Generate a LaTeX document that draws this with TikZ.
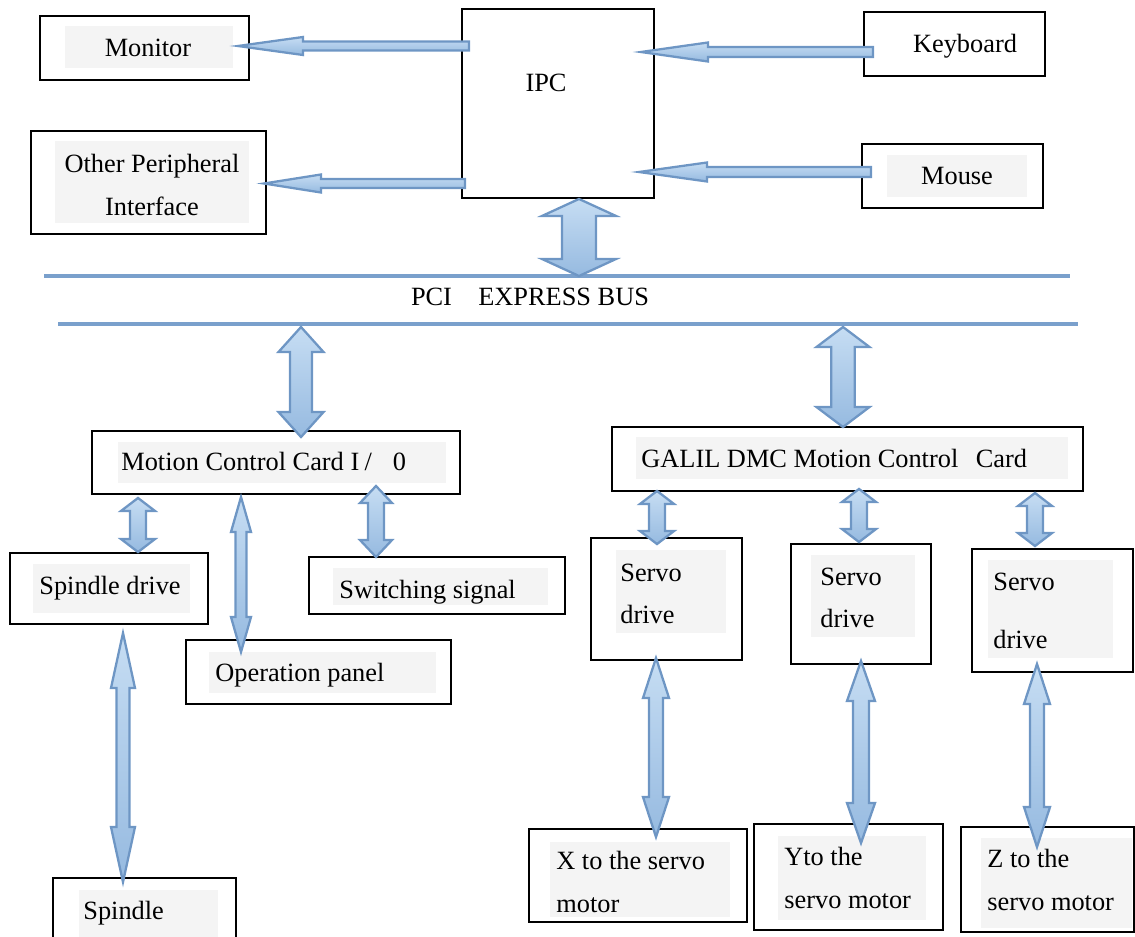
\documentclass[tikz,border=0pt]{standalone}
\usepackage{fontspec}
\setmainfont{Liberation Serif}
\usetikzlibrary{calc,fit}

\definecolor{arrowline}{RGB}{110,150,196}
\definecolor{arrowtop}{RGB}{198,221,243}
\definecolor{arrowbot}{RGB}{150,186,224}
\definecolor{busline}{RGB}{122,160,204}
\definecolor{labelgrey}{RGB}{244,244,244}

\tikzset{
	unit/.style={draw, line width=1.1pt, inner sep=0pt},
	shadebox/.style={fill=labelgrey, inner sep=0pt},
	txt/.style={inner sep=0pt, text height=0.9em, text depth=0.04em},
	txtii/.style={inner sep=0pt, align=left},
	fatline/.style={draw=arrowline, line width=1.3pt, line join=miter, top color=arrowtop, bottom color=arrowbot},
	bus/.style={draw=busline, line width=2.1pt}
}

% block arrow: from, to, half shaft, half head, head length (px)
\newcommand{\onearrow}[5]{
	\coordinate (fa-s) at #1;
	\coordinate (fa-e) at #2;
	\pgfmathsetlengthmacro{\fasw}{#3*0.02cm}
	\pgfmathsetlengthmacro{\fahw}{#4*0.02cm}
	\pgfmathsetlengthmacro{\fahl}{#5*0.02cm}
	\coordinate (fa-h) at ($(fa-e)!\fahl!(fa-s)$);
	\path[fatline] ($(fa-s)!\fasw!90:(fa-e)$) -- ($(fa-h)!\fasw!90:(fa-e)$) -- ($(fa-h)!\fahw!90:(fa-e)$) -- (fa-e)
		-- ($(fa-h)!\fahw!-90:(fa-e)$) -- ($(fa-h)!\fasw!-90:(fa-e)$) -- ($(fa-s)!\fasw!-90:(fa-e)$) -- cycle;
}
\newcommand{\twoarrow}[5]{
	\coordinate (fa-s) at #1;
	\coordinate (fa-e) at #2;
	\pgfmathsetlengthmacro{\fasw}{#3*0.02cm}
	\pgfmathsetlengthmacro{\fahw}{#4*0.02cm}
	\pgfmathsetlengthmacro{\fahl}{#5*0.02cm}
	\coordinate (fa-a) at ($(fa-s)!\fahl!(fa-e)$);
	\coordinate (fa-b) at ($(fa-e)!\fahl!(fa-s)$);
	\path[fatline] (fa-s) -- ($(fa-a)!\fahw!90:(fa-e)$) -- ($(fa-a)!\fasw!90:(fa-e)$) -- ($(fa-b)!\fasw!90:(fa-e)$)
		-- ($(fa-b)!\fahw!90:(fa-e)$) -- (fa-e) -- ($(fa-b)!\fahw!-90:(fa-e)$) -- ($(fa-b)!\fasw!-90:(fa-e)$)
		-- ($(fa-a)!\fasw!-90:(fa-e)$) -- ($(fa-a)!\fahw!-90:(fa-e)$) -- cycle;
}

\begin{document}
\begin{tikzpicture}[x=0.02cm, y=-0.02cm, every node/.style={font=\fontsize{15}{24}\selectfont}]
{
	\useasboundingbox (0,0) rectangle (1135,936);

	% top row
	\node[shadebox, fit={(65,26) (233,68)}] (MonitorBg) {};
	\node[unit, fit={(40,16) (249,80)}] (Monitor) {};
	\node[txt] (MonitorText) at (148,49) {Monitor};
	\node[shadebox, fit={(55,141) (249,223)}] (OtherBg) {};
	\node[unit, fit={(31,131) (266,234)}] (Other) {};
	\node[txtii, align=center] (OtherText) at (152,185) {Other Peripheral\\Interface};
	\node[unit, fit={(462,9) (654,198)}] (IPC) {};
	\node[txt] (IPCText) at (546,84) {IPC};
	\node[unit, fit={(864,12) (1045,76)}] (Keyboard) {};
	\node[txt] (KeyboardText) at (965,45) {Keyboard};
	\node[shadebox, fit={(887,155) (1027,197)}] (MouseBg) {};
	\node[unit, fit={(862,144) (1043,208)}] (Mouse) {};
	\node[txt] (MouseText) at (957,177) {Mouse};

	% bus
	\coordinate (BusTopL) at (44,276);
	\coordinate (BusTopR) at (1070,276);
	\coordinate (BusBotL) at (58,324);
	\coordinate (BusBotR) at (1078,324);
	\draw[bus] (BusTopL) -- (BusTopR);
	\draw[bus] (BusBotL) -- (BusBotR);
	\node[txt] (BusText) at (530,298) {PCI\quad EXPRESS BUS};

	% motion control card side
	\node[shadebox, fit={(118,442) (446,483)}] (MCCBg) {};
	\node[unit, fit={(92,431) (460,494)}] (MCC) {};
	\node[txt, anchor=west] (MCCText) at (121,463) {Motion Control Card I\hspace{3pt}/\hspace{12pt}0};
	\node[shadebox, fit={(33,564) (190,613)}] (SpindleDriveBg) {};
	\node[unit, fit={(10,553) (208,624)}] (SpindleDrive) {};
	\node[txt, anchor=west] (SpindleDriveText) at (39,587) {Spindle drive};
	\node[shadebox, fit={(333,568) (548,605)}] (SwitchingBg) {};
	\node[unit, fit={(309,557) (565,614)}] (Switching) {};
	\node[txt, anchor=west] (SwitchingText) at (339,591) {Switching signal};
	\node[shadebox, fit={(209,652) (436,693)}] (OpPanelBg) {};
	\node[unit, fit={(186,640) (451,704)}] (OpPanel) {};
	\node[txt, anchor=west] (OpPanelText) at (215,674) {Operation panel};
	\node[shadebox, fit={(79,890) (218,945)}] (SpindleBg) {};
	\node[unit, fit={(53,878) (236,950)}] (Spindle) {};
	\node[txt, anchor=west] (SpindleText) at (83,912) {Spindle};

	% galil card side
	\node[shadebox, fit={(636,437) (1068,479)}] (GalilBg) {};
	\node[unit, fit={(612,427) (1083,491)}] (Galil) {};
	\node[txt, anchor=west] (GalilText) at (641,460) {GALIL DMC Motion Control\hspace{10pt}Card};
	\node[shadebox, fit={(616,550) (726,633)}] (ServoABg) {};
	\node[unit, fit={(591,538) (742,660)}] (ServoA) {};
	\node[txtii, anchor=west] (ServoAText) at (620,594) {Servo\\drive};
	\node[shadebox, fit={(811,555) (915,637)}] (ServoBBg) {};
	\node[unit, fit={(791,544) (931,664)}] (ServoB) {};
	\node[txtii, anchor=west] (ServoBText) at (820,598) {Servo\\drive};
	\node[shadebox, fit={(988,560) (1113,658)}] (ServoCBg) {};
	\node[unit, fit={(972,549) (1133,672)}] (ServoC) {};
	\node[txtii, anchor=west, font=\fontsize{15}{33}\selectfont] (ServoCText) at (993,611) {Servo\\drive};
	\node[shadebox, fit={(550,842) (730,917)}] (MotorXBg) {};
	\node[unit, fit={(529,829) (747,922)}] (MotorX) {};
	\node[txtii, anchor=west] (MotorXText) at (556,882) {X to the servo\\motor};
	\node[shadebox, fit={(778,836) (926,920)}] (MotorYBg) {};
	\node[unit, fit={(754,824) (943,930)}] (MotorY) {};
	\node[txtii, anchor=west] (MotorYText) at (784,878) {Yto the\\servo motor};
	\node[shadebox, fit={(981,838) (1132,928)}] (MotorZBg) {};
	\node[unit, fit={(961,827) (1134,932)}] (MotorZ) {};
	\node[txtii, anchor=west] (MotorZText) at (987,880) {Z to the\\servo motor};

	% arrows
	\onearrow{($(IPC.west |- Monitor.east)+(8,-2)$)}{($(Monitor.east)+(-12,-2)$)}{4.5}{9}{65}
	\onearrow{($(IPC.west |- Other.east)+(4,1)$)}{($(Other.east)+(-3,1)$)}{4.5}{9}{57}
	\onearrow{($(Keyboard.west)+(10,8)$)}{($(IPC.east |- Keyboard.west)+(-14,8)$)}{5}{9.5}{67}
	\onearrow{($(Mouse.west)+(10,-4)$)}{($(IPC.east |- Mouse.west)+(-16,-4)$)}{5}{9.5}{68}
	\twoarrow{(579,0 |- IPC.south)}{(579,0 |- BusTopL)}{17}{37}{17}
	\twoarrow{($(301,0 |- BusBotL)+(0,3)$)}{($(301,0 |- MCC.north)+(0,7)$)}{11}{22.5}{25}
	\twoarrow{($(843,0 |- BusBotL)+(0,3)$)}{($(843,0 |- Galil.north)+(0,1)$)}{11.7}{26.5}{20}
	\twoarrow{($(138,0 |- MCC.south)+(0,3)$)}{(138,0 |- SpindleDrive.north)}{8}{17}{13}
	\twoarrow{($(241,0 |- MCC.south)+(0,2)$)}{($(241,0 |- OpPanel.north)+(0,13)$)}{5.5}{10}{35}
	\twoarrow{($(376,0 |- MCC.south)+(0,-9)$)}{($(376,0 |- Switching.north)+(0,1)$)}{8}{16}{17}
	\twoarrow{($(123,0 |- SpindleDrive.south)+(0,8)$)}{($(123,0 |- Spindle.north)+(0,5)$)}{6.5}{12}{55}
	\twoarrow{($(657,0 |- Galil.south)+(0,-1)$)}{($(657,0 |- ServoA.north)+(0,7)$)}{8}{17}{13}
	\twoarrow{($(859,0 |- Galil.south)+(0,-3)$)}{($(859,0 |- ServoB.north)+(0,-1)$)}{8}{17}{13}
	\twoarrow{($(1035,0 |- Galil.south)+(0,1)$)}{($(1035,0 |- ServoC.north)+(0,-2)$)}{8}{17}{13}
	\twoarrow{($(656,0 |- ServoA.south)+(0,-3)$)}{($(656,0 |- MotorX.north)+(0,9)$)}{7}{13}{40}
	\twoarrow{($(861,0 |- ServoB.south)+(0,-4)$)}{($(861,0 |- MotorY.north)+(0,20)$)}{8}{14}{40}
	\twoarrow{($(1037,0 |- ServoC.south)+(0,-9)$)}{($(1037,0 |- MotorZ.north)+(0,21)$)}{7}{13}{40}
}
\end{tikzpicture}
\end{document}
